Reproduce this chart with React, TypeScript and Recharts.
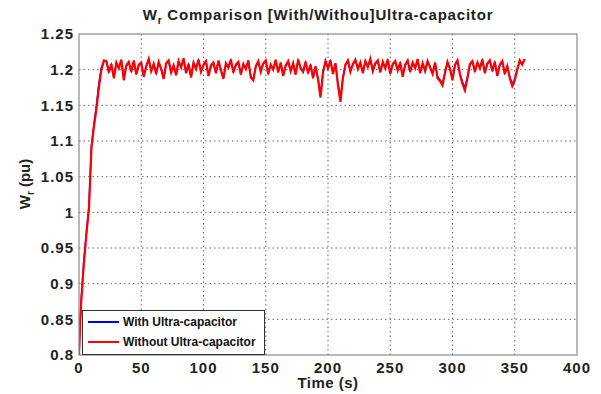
import React from "react";
import { LineChart, Line, XAxis, YAxis, CartesianGrid } from "recharts";

// Time samples (s), shared by both traces
const timeS: number[] = [
  0, 1, 2, 4, 6, 8, 10, 12, 14, 16, 18, 20,
  22, 24, 26, 28, 30, 32, 34, 36, 38, 40,
  42, 44, 46, 48, 50, 52, 54, 56, 58, 60,
  62, 64, 66, 68, 70, 72, 74, 76, 78, 80,
  82, 84, 86, 88, 90, 92, 94, 96, 98, 100,
  102, 104, 106, 108, 110, 112, 114, 116, 118, 120,
  122, 124, 126, 128, 130, 132, 134, 136, 138, 140,
  142, 144, 146, 148, 150, 152, 154, 156, 158, 160,
  162, 164, 166, 168, 170, 172, 174, 176, 178, 180,
  182, 184, 186, 188, 190, 192, 194, 196, 198, 200,
  202, 204, 206, 208, 210, 212, 214, 216, 218, 220,
  222, 224, 226, 228, 230, 232, 234, 236, 238, 240,
  242, 244, 246, 248, 250, 252, 254, 256, 258, 260,
  262, 264, 266, 268, 270, 272, 274, 276, 278, 280,
  282, 284, 286, 288, 290, 292, 294, 296, 298, 300,
  302, 304, 306, 308, 310, 312, 314, 316, 318, 320,
  322, 324, 326, 328, 330, 332, 334, 336, 338, 340,
  342, 344, 346, 348, 350, 352, 354, 356, 358,
];

// Rotor speed Wr (pu) without ultra-capacitor
const wrWithout: number[] = [
  0.8, 0.85, 0.88, 0.93, 0.97, 1.005, 1.09, 1.12, 1.145, 1.175, 1.2, 1.213,
  1.212, 1.196, 1.208, 1.188, 1.21, 1.202, 1.214, 1.185, 1.206, 1.211,
  1.197, 1.213, 1.193, 1.207, 1.21, 1.19, 1.205, 1.215, 1.198, 1.208,
  1.194, 1.211, 1.201, 1.187, 1.209, 1.213, 1.196, 1.206, 1.192, 1.212,
  1.203, 1.216, 1.195, 1.208, 1.189, 1.21, 1.201, 1.214, 1.197, 1.207,
  1.212, 1.191, 1.206, 1.21, 1.195, 1.213, 1.199, 1.187, 1.209, 1.203,
  1.214, 1.196, 1.207, 1.211, 1.193, 1.208, 1.201, 1.213, 1.189, 1.185,
  1.205, 1.212, 1.197, 1.209, 1.213, 1.194, 1.207, 1.2, 1.214, 1.196,
  1.21, 1.191, 1.206, 1.212, 1.198, 1.209, 1.193, 1.214, 1.202, 1.197,
  1.211, 1.195, 1.207, 1.188, 1.205, 1.186, 1.161, 1.196, 1.212, 1.202,
  1.213, 1.194, 1.209, 1.178, 1.155, 1.188, 1.207, 1.213, 1.197, 1.208,
  1.214, 1.201, 1.21, 1.195, 1.212, 1.204, 1.215, 1.198, 1.209, 1.213,
  1.196, 1.211, 1.202, 1.214, 1.194, 1.208, 1.212, 1.199, 1.21, 1.19,
  1.207, 1.213, 1.197, 1.21, 1.202, 1.215, 1.195, 1.209, 1.198, 1.212,
  1.203, 1.194, 1.21, 1.188, 1.184, 1.178, 1.196, 1.211, 1.201, 1.185,
  1.207, 1.213, 1.193, 1.18, 1.171, 1.188, 1.208, 1.212, 1.197, 1.21,
  1.202, 1.214, 1.195, 1.209, 1.213, 1.198, 1.211, 1.191, 1.207, 1.212,
  1.194, 1.205, 1.188, 1.177, 1.185, 1.2, 1.213, 1.207, 1.215,
];

// Rotor speed Wr (pu) with ultra-capacitor (almost identical, hidden under the red trace)
const wrWith: number[] = [
  0.8, 0.852, 0.884, 0.934, 0.974, 1.009, 1.094, 1.124, 1.15, 1.182, 1.203, 1.212,
  1.211, 1.197, 1.207, 1.19, 1.209, 1.203, 1.213, 1.187, 1.205, 1.21,
  1.198, 1.212, 1.194, 1.206, 1.209, 1.191, 1.204, 1.214, 1.199, 1.207,
  1.195, 1.21, 1.202, 1.188, 1.208, 1.212, 1.197, 1.205, 1.193, 1.211,
  1.204, 1.215, 1.196, 1.207, 1.19, 1.209, 1.202, 1.213, 1.198, 1.206,
  1.211, 1.192, 1.205, 1.209, 1.196, 1.212, 1.2, 1.188, 1.208, 1.204,
  1.213, 1.197, 1.206, 1.21, 1.194, 1.207, 1.202, 1.212, 1.19, 1.187,
  1.204, 1.211, 1.198, 1.208, 1.212, 1.195, 1.206, 1.201, 1.213, 1.197,
  1.209, 1.192, 1.205, 1.211, 1.199, 1.208, 1.194, 1.213, 1.203, 1.198,
  1.21, 1.196, 1.206, 1.19, 1.204, 1.188, 1.165, 1.197, 1.211, 1.203,
  1.212, 1.195, 1.208, 1.181, 1.16, 1.19, 1.206, 1.212, 1.198, 1.207,
  1.213, 1.202, 1.209, 1.196, 1.211, 1.205, 1.214, 1.199, 1.208, 1.212,
  1.197, 1.21, 1.203, 1.213, 1.195, 1.207, 1.211, 1.2, 1.209, 1.192,
  1.206, 1.212, 1.198, 1.209, 1.203, 1.214, 1.196, 1.208, 1.199, 1.211,
  1.204, 1.195, 1.209, 1.19, 1.186, 1.181, 1.197, 1.21, 1.202, 1.188,
  1.206, 1.212, 1.194, 1.183, 1.175, 1.19, 1.207, 1.211, 1.198, 1.209,
  1.203, 1.213, 1.196, 1.208, 1.212, 1.199, 1.21, 1.193, 1.206, 1.211,
  1.195, 1.204, 1.19, 1.18, 1.187, 1.201, 1.212, 1.208, 1.214,
];

const xTicks: number[] = [0, 50, 100, 150, 200, 250, 300, 350, 400];
const yTicks: number[] = [0.8, 0.85, 0.9, 0.95, 1, 1.05, 1.1, 1.15, 1.2, 1.25];
const yTickLabels: string[] = ["0.8", "0.85", "0.9", "0.95", "1", "1.05", "1.1", "1.15", "1.2", "1.25"];

const seriesNames: string[] = ["With Ultra-capacitor", "Without Ultra-capacitor"];
const seriesColors: string[] = ["#0000ff", "#ff0000"];

const chartData = timeS.map((t, i) => ({ t, withUC: wrWith[i], withoutUC: wrWithout[i] }));

const FONT = "'Liberation Sans', Arial, sans-serif";

const tickStyle = {
  fontFamily: FONT,
  fontSize: 15,
  fontWeight: 700,
  fill: "#222",
  letterSpacing: 1,
};

export default function App() {
  return (
    <div style={{ position: "absolute", left: 0, top: 0, width: 601, height: 394, background: "#fff" }}>
      <LineChart
        width={601}
        height={394}
        data={chartData}
        margin={{ top: 34, right: 24, bottom: 0, left: 0 }}
      >
        <CartesianGrid
          stroke="#666"
          strokeDasharray="1.5 3"
          verticalValues={xTicks.slice(1, -1)}
          horizontalValues={yTicks.slice(1, -1)}
        />
        <XAxis
          type="number"
          dataKey="t"
          domain={[0, 400]}
          ticks={xTicks}
          height={39}
          axisLine={false}
          tickLine={false}
          tickSize={0}
          tickMargin={7}
          tick={tickStyle}
          interval={0}
          allowDataOverflow
        />
        <YAxis
          type="number"
          domain={[0.8, 1.25]}
          ticks={yTicks}
          width={79}
          axisLine={false}
          tickLine={false}
          tickSize={0}
          tickMargin={5}
          tick={tickStyle}
          interval={0}
          tickFormatter={(v: number) => yTickLabels[yTicks.indexOf(v)] ?? String(v)}
          allowDataOverflow
        />
        <Line
          dataKey="withUC"
          name={seriesNames[0]}
          stroke={seriesColors[0]}
          strokeWidth={1.5}
          dot={false}
          isAnimationActive={false}
          type="linear"
        />
        <Line
          dataKey="withoutUC"
          name={seriesNames[1]}
          stroke={seriesColors[1]}
          strokeWidth={2.2}
          dot={false}
          isAnimationActive={false}
          type="linear"
        />
      </LineChart>
      <svg
        width={601}
        height={394}
        style={{ position: "absolute", left: 0, top: 0, pointerEvents: "none" }}
      >
        <rect x={79} y={34} width={498} height={321} fill="none" stroke="#8a8a8a" strokeWidth={1.2} />
        <text
          x={318}
          y={20}
          textAnchor="middle"
          fontFamily={FONT}
          fontWeight={700}
          fontSize={15}
          letterSpacing={0.8}
          fill="#222"
        >
          W<tspan fontSize={10} dy={4}>r</tspan>
          <tspan dy={-4}> Comparison [With/Withou]Ultra-capacitor</tspan>
        </text>
        <text
          x={328}
          y={388}
          textAnchor="middle"
          fontFamily={FONT}
          fontWeight={700}
          fontSize={15}
          fill="#222"
          letterSpacing={0.5}
        >
          Time (s)
        </text>
        <text
          transform="translate(30,184) rotate(-90)"
          textAnchor="middle"
          fontFamily={FONT}
          fontWeight={700}
          fontSize={15}
          fill="#222"
        >
          W<tspan fontSize={10} dy={4}>r</tspan>
          <tspan dy={-4}> (pu)</tspan>
        </text>
      </svg>
      <div
        style={{
          position: "absolute",
          left: 82,
          top: 310,
          width: 183,
          height: 45,
          border: "1px solid #333",
          background: "#fff",
          boxSizing: "border-box",
          fontFamily: FONT,
          fontSize: 12,
          fontWeight: 700,
          color: "#111",
        }}
      >
        {seriesNames.map((name, i) => (
          <div
            key={name}
            style={{
              position: "absolute",
              left: 5,
              top: i === 0 ? 4 : 24,
              display: "flex",
              alignItems: "center",
              whiteSpace: "nowrap",
            }}
          >
            <div
              style={{
                width: 31,
                height: i === 0 ? 1.5 : 2.5,
                background: seriesColors[i],
                marginRight: 4,
              }}
            />
            <span>{name}</span>
          </div>
        ))}
      </div>
    </div>
  );
}
